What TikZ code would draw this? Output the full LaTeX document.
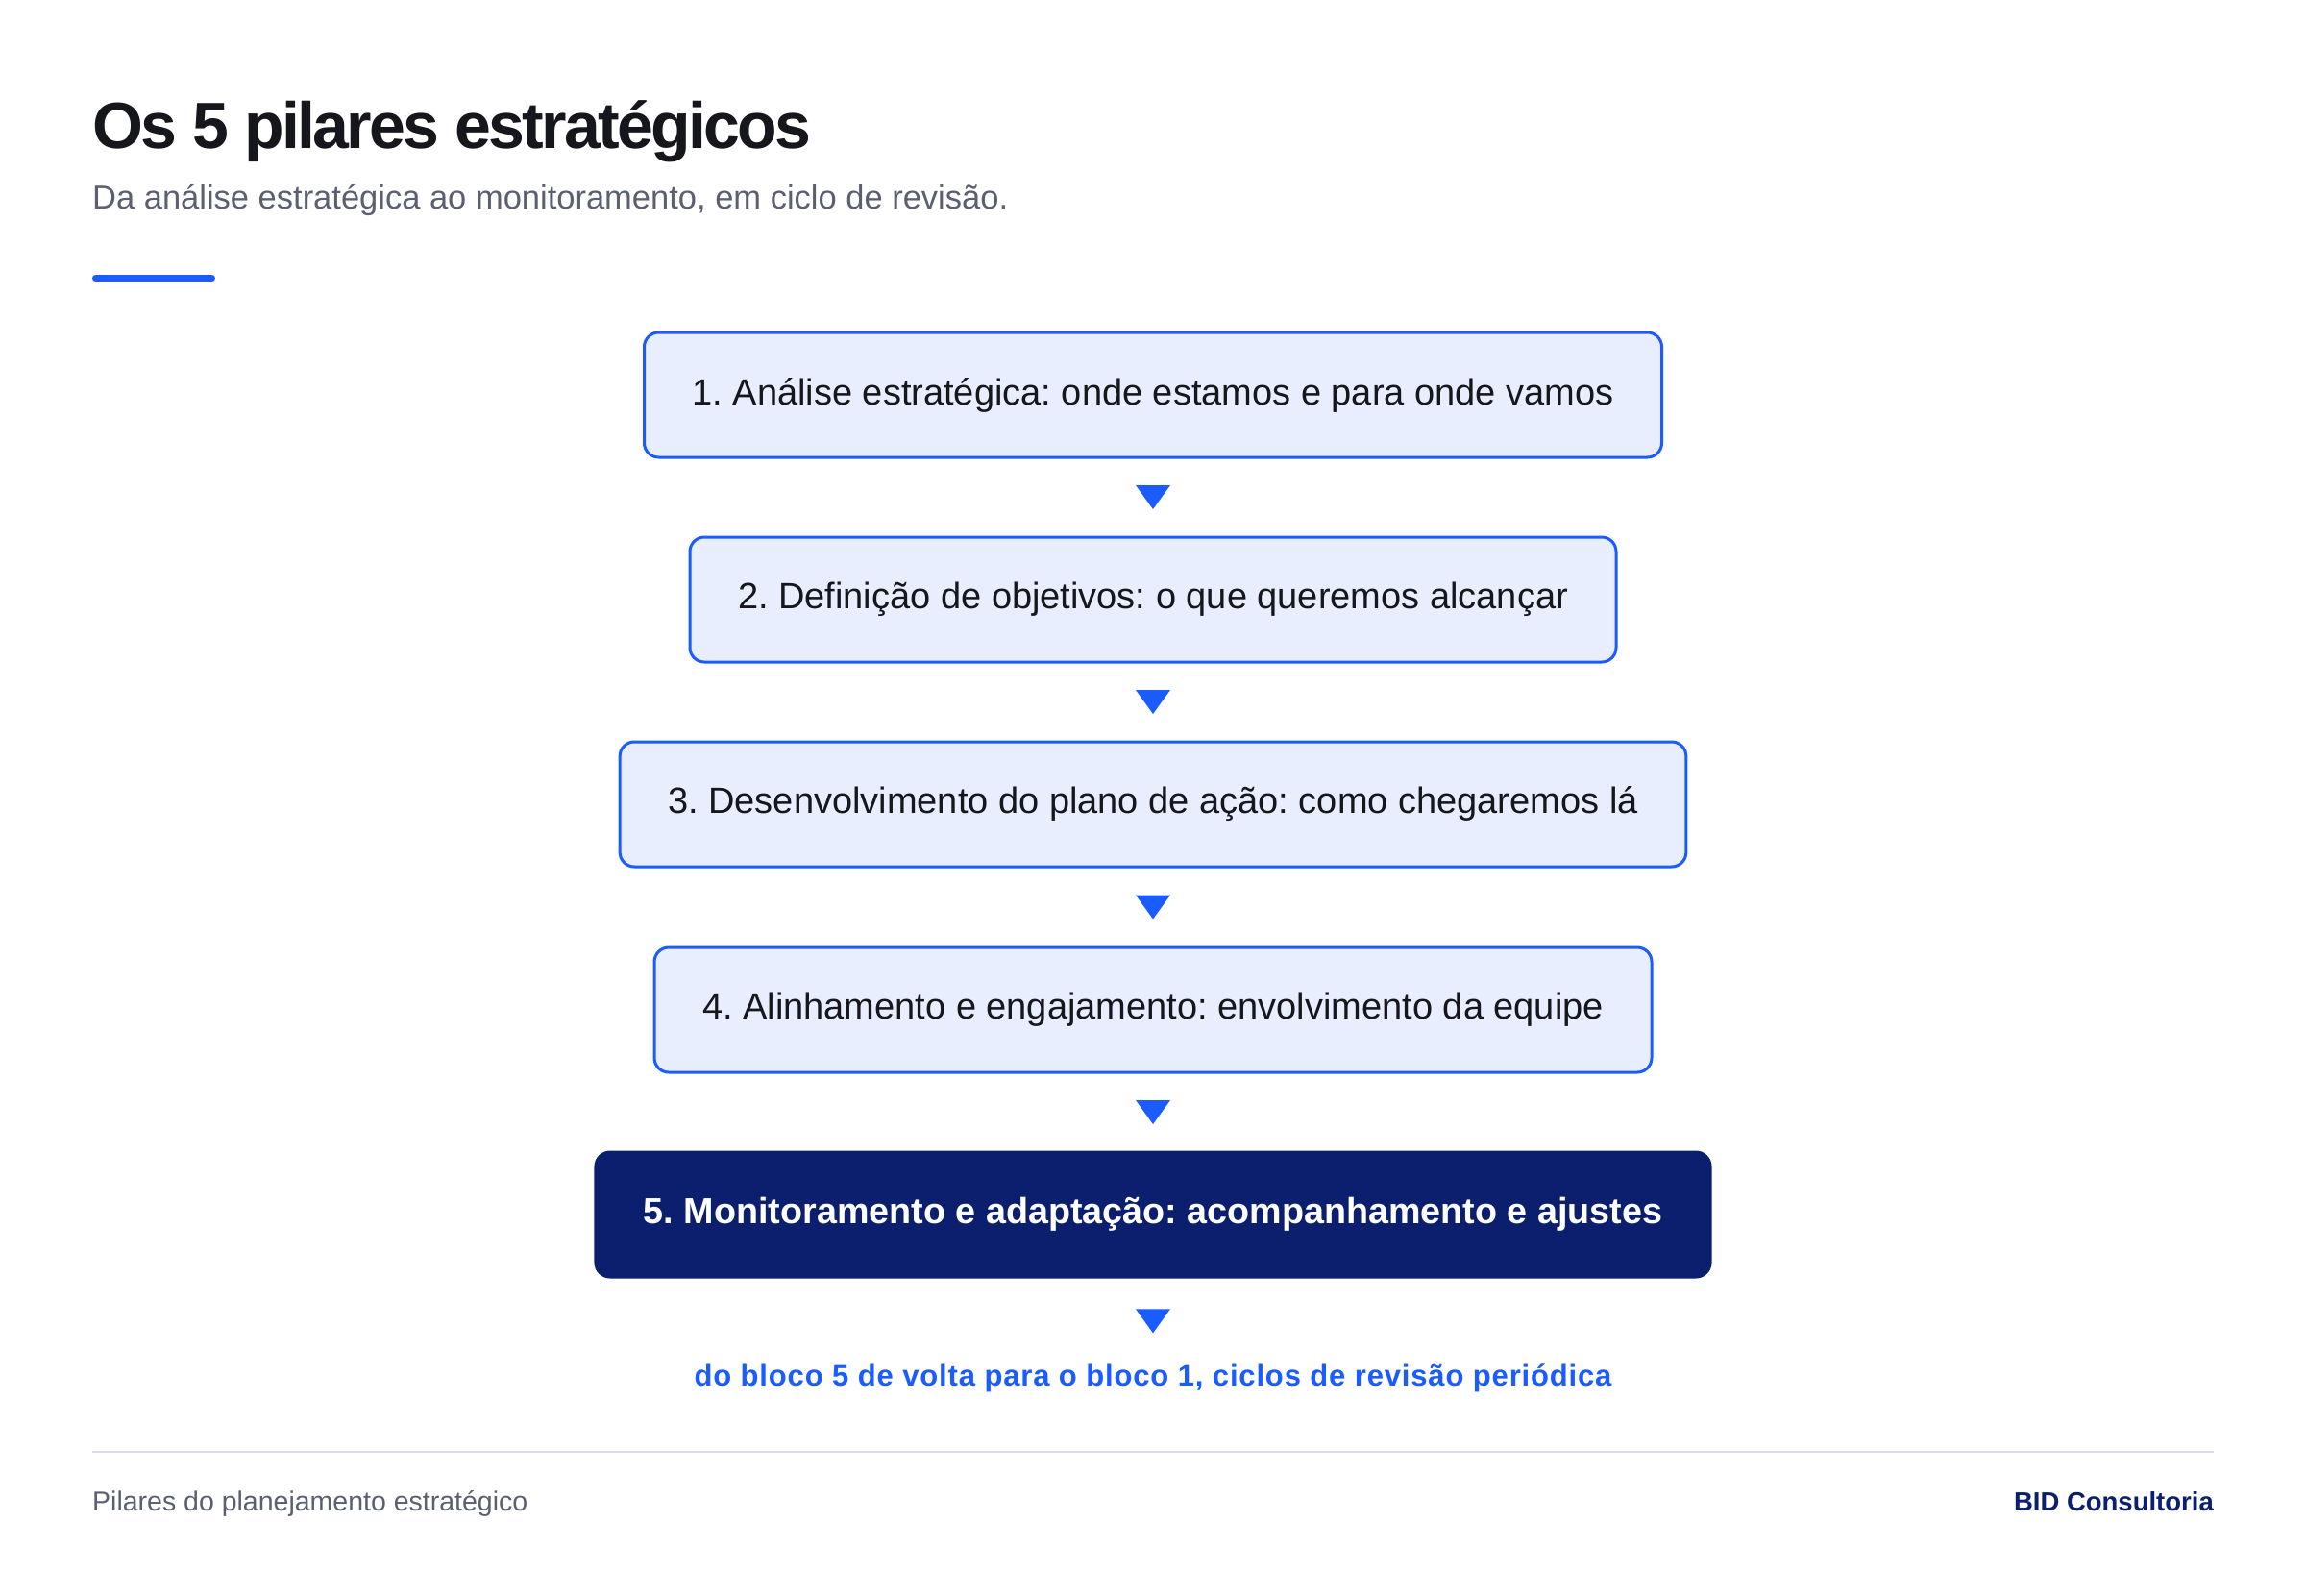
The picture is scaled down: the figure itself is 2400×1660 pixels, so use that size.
\documentclass[tikz,border=0pt]{standalone}
\usepackage{fontspec}
\setmainfont{Liberation Sans}
\newfontfamily\titlefont{Liberation Sans}[LetterSpace=-4]
\newfontfamily\notefont{Liberation Sans}[LetterSpace=2.7]
\usepackage{tikz}
\usetikzlibrary{calc}
\frenchspacing
\definecolor{ink}{HTML}{15171C}
\definecolor{muted}{HTML}{5A6070}
\definecolor{accent}{HTML}{1A5CFF}
\definecolor{boxfill}{HTML}{E8EEFD}
\definecolor{navy}{HTML}{0C1F6E}
\definecolor{rulegray}{HTML}{D9DDE6}
\tikzset{pillar/.style={draw=accent,line width=3pt,fill=boxfill,rounded corners=15pt,minimum height=130pt,inner xsep=50pt,text=ink,font=\fontsize{38}{46}\selectfont}}
\tikzset{lastpillar/.style={pillar,draw=navy,fill=navy,text=white,font=\fontsize{37.7}{46}\selectfont\bfseries}}
\tikzset{pics/downtip/.style={code={\fill[accent] (-18pt,12.5pt) -- (18pt,12.5pt) -- (0pt,-12.5pt) -- cycle;}}}

\begin{document}
\begin{tikzpicture}[x=1pt,y=-1pt]
    \useasboundingbox[fill=white] (0,0) rectangle (2400,1660);

    % heading
    \node[anchor=base west,inner sep=0pt,text=ink] (title) at (96,154) {\fontsize{68}{80}\titlefont\bfseries Os 5 pilares estratégicos};
    \node[anchor=base west,inner sep=0pt,text=muted] (subtitle) at (96,217) {\fontsize{34.5}{42}\selectfont Da análise estratégica ao monitoramento, em ciclo de revisão.};
    \draw[accent,line width=7pt,line cap=round] (99.5,289.5) -- (220.5,289.5);

    % the five blocks
    \foreach \pos/\name/\txt in {{(1200,411)/b1/1. Análise estratégica: onde estamos e para onde vamos}, {(1200,624)/b2/2. Definição de objetivos: o que queremos alcançar}, {(1200,837)/b3/3. Desenvolvimento do plano de ação: como chegaremos lá}, {(1200,1051)/b4/4. Alinhamento e engajamento: envolvimento da equipe}}
        \node[pillar] (\name) at \pos {\txt};
    \node[lastpillar] (b5) at (1200,1264) {5. Monitoramento e adaptação: acompanhamento e ajustes};

    \node[anchor=base,inner sep=0pt,text=accent] (note) at (1200,1442) {\fontsize{31}{38}\notefont\bfseries do bloco 5 de volta para o bloco 1, ciclos de revisão periódica};

    \foreach \source/\dest in {b1/b2, b2/b3, b3/b4, b4/b5, b5/note} {
        \path (\source.south) -- coordinate[midway] (m\source) (\dest.north);
        \pic at (m\source) {downtip};
    }

    % footer
    \draw[rulegray,line width=2.5pt] (96,1511) -- (2304,1511);
    \node[anchor=base west,inner sep=0pt,text=muted] (footleft) at (96,1572) {\fontsize{28.5}{34}\selectfont Pilares do planejamento estratégico};
    \node[anchor=base east,inner sep=0pt,text=navy] (footright) at (2304,1572) {\fontsize{27.5}{34}\selectfont\bfseries BID Consultoria};
\end{tikzpicture}
\end{document}
